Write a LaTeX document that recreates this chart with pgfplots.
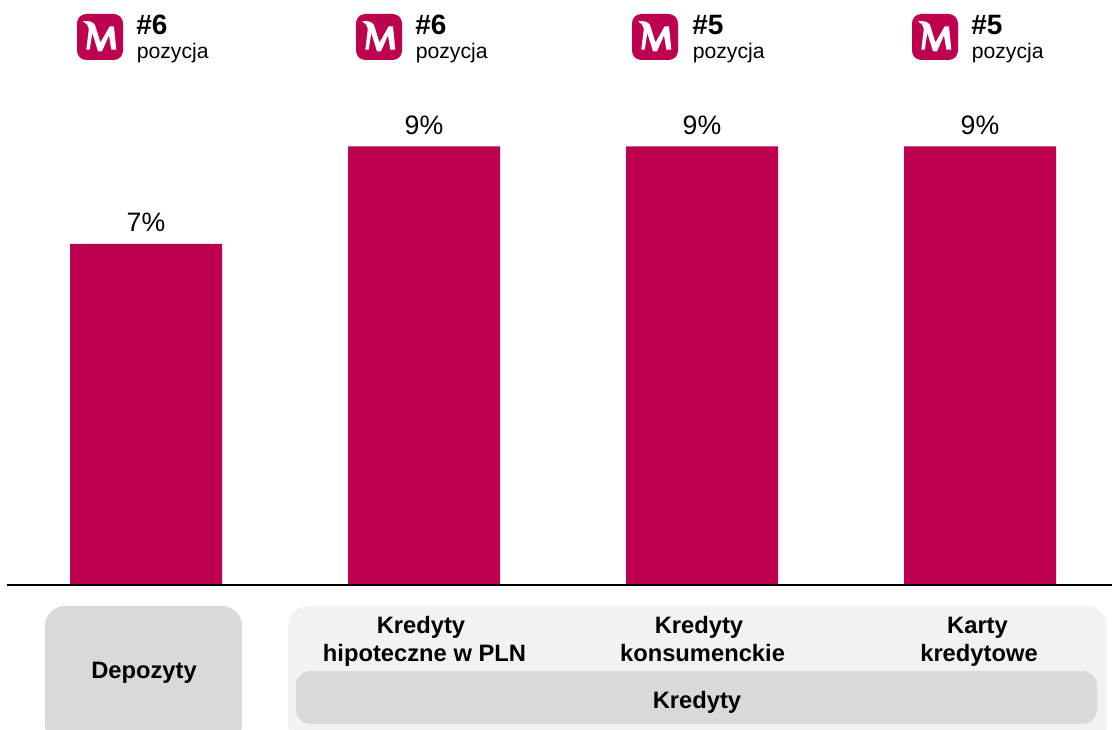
\documentclass[border=0pt]{standalone}
\usepackage{pgfplots}
\pgfplotsset{compat=1.18}
\usepackage{fontspec}
\setmainfont{Liberation Sans}
\definecolor{crim}{HTML}{BE0050}
\definecolor{boxd}{HTML}{D9D9D9}
\definecolor{boxl}{HTML}{F2F2F2}
\newcommand{\fsz}[1]{\fontsize{#1pt}{#1pt}\selectfont}
\newcommand{\logo}[2]{%
  \begin{scope}[shift={(#1,#2)}]
    \fill[crim,rounded corners=7] (0,0) rectangle (46,-46);
    \fill[white] (6,-7.3) .. controls (11,-6.5) and (16,-7.5) .. (18,-11)
      -- (23.5,-28.5) -- (32.7,-12.3) -- (37,-12.3) -- (39.3,-35.7) -- (34.3,-35.7) -- (32,-21.3)
      -- (25,-37.3) -- (21,-37.3) -- (15.3,-19) -- (12.7,-35.7) -- (9.3,-35.7) -- (11.8,-15)
      .. controls (11,-11) and (9,-9) .. (6,-7.3) -- cycle;
  \end{scope}}
\newcommand{\rank}[3]{%
  \node[anchor=base west,inner sep=0pt,font=\bfseries\fsz{21}] at (#1+1,#2-2) {#3};
  \node[anchor=base west,inner sep=0pt,font=\fsz{15.9}] at (#1+1.5,#2-26) {pozycja};}
\newcommand{\lab}[3]{\node[anchor=base,inner sep=0pt,font=\bfseries\fsz{17.8}] at (#1,729-#2) {#3};}
\begin{document}
\begin{tikzpicture}[x=0.75pt,y=0.75pt]
\useasboundingbox (0,0) rectangle (1112,729);
\begin{scope}
\clip (0,0) rectangle (1112,729);
\fill[boxd,rounded corners=15] (45,729-606) rectangle (242,729-745);
\fill[boxl,rounded corners=15] (288,729-606) rectangle (1107,729-745);
\fill[boxd,rounded corners=11] (296,729-671) rectangle (1097,729-724);
\lab{144}{678}{Depozyty}
\lab{421}{633}{Kredyty}
\lab{424.5}{661.5}{hipoteczne w PLN}
\lab{699}{633}{Kredyty}
\lab{702.5}{661.5}{konsumenckie}
\lab{977.5}{633}{Karty}
\lab{979}{661.5}{kredytowe}
\lab{697}{708}{Kredyty}
\end{scope}
\begin{axis}[
  at={(0,0)},anchor=south west,
  scale only axis,width=834pt,height=546.75pt,
  xmin=-0.5252,xmax=3.4748,ymin=-2.97,ymax=12.01,
  hide axis,clip=false,
  ybar,bar width=114pt,
  /pgf/number format/assume math mode=true,
  nodes near coords={\pgfmathprintnumber{\pgfplotspointmeta}\%},
  every node near coord/.append style={font=\fsz{20},text=black,yshift=5.5pt},
]
\addplot[fill=crim,draw=none] coordinates {(0,7) (1,9) (2,9) (3,9)};
\end{axis}
\draw[black,line width=1.5pt] (7,729-584.5) -- (1112,729-584.5);
\logo{77}{729-14}
\logo{356}{729-14}
\logo{632}{729-14}
\logo{912}{729-14}
\rank{135}{729-33}{\#6}
\rank{414}{729-33}{\#6}
\rank{691}{729-33}{\#5}
\rank{970}{729-33}{\#5}
\end{tikzpicture}
\end{document}
